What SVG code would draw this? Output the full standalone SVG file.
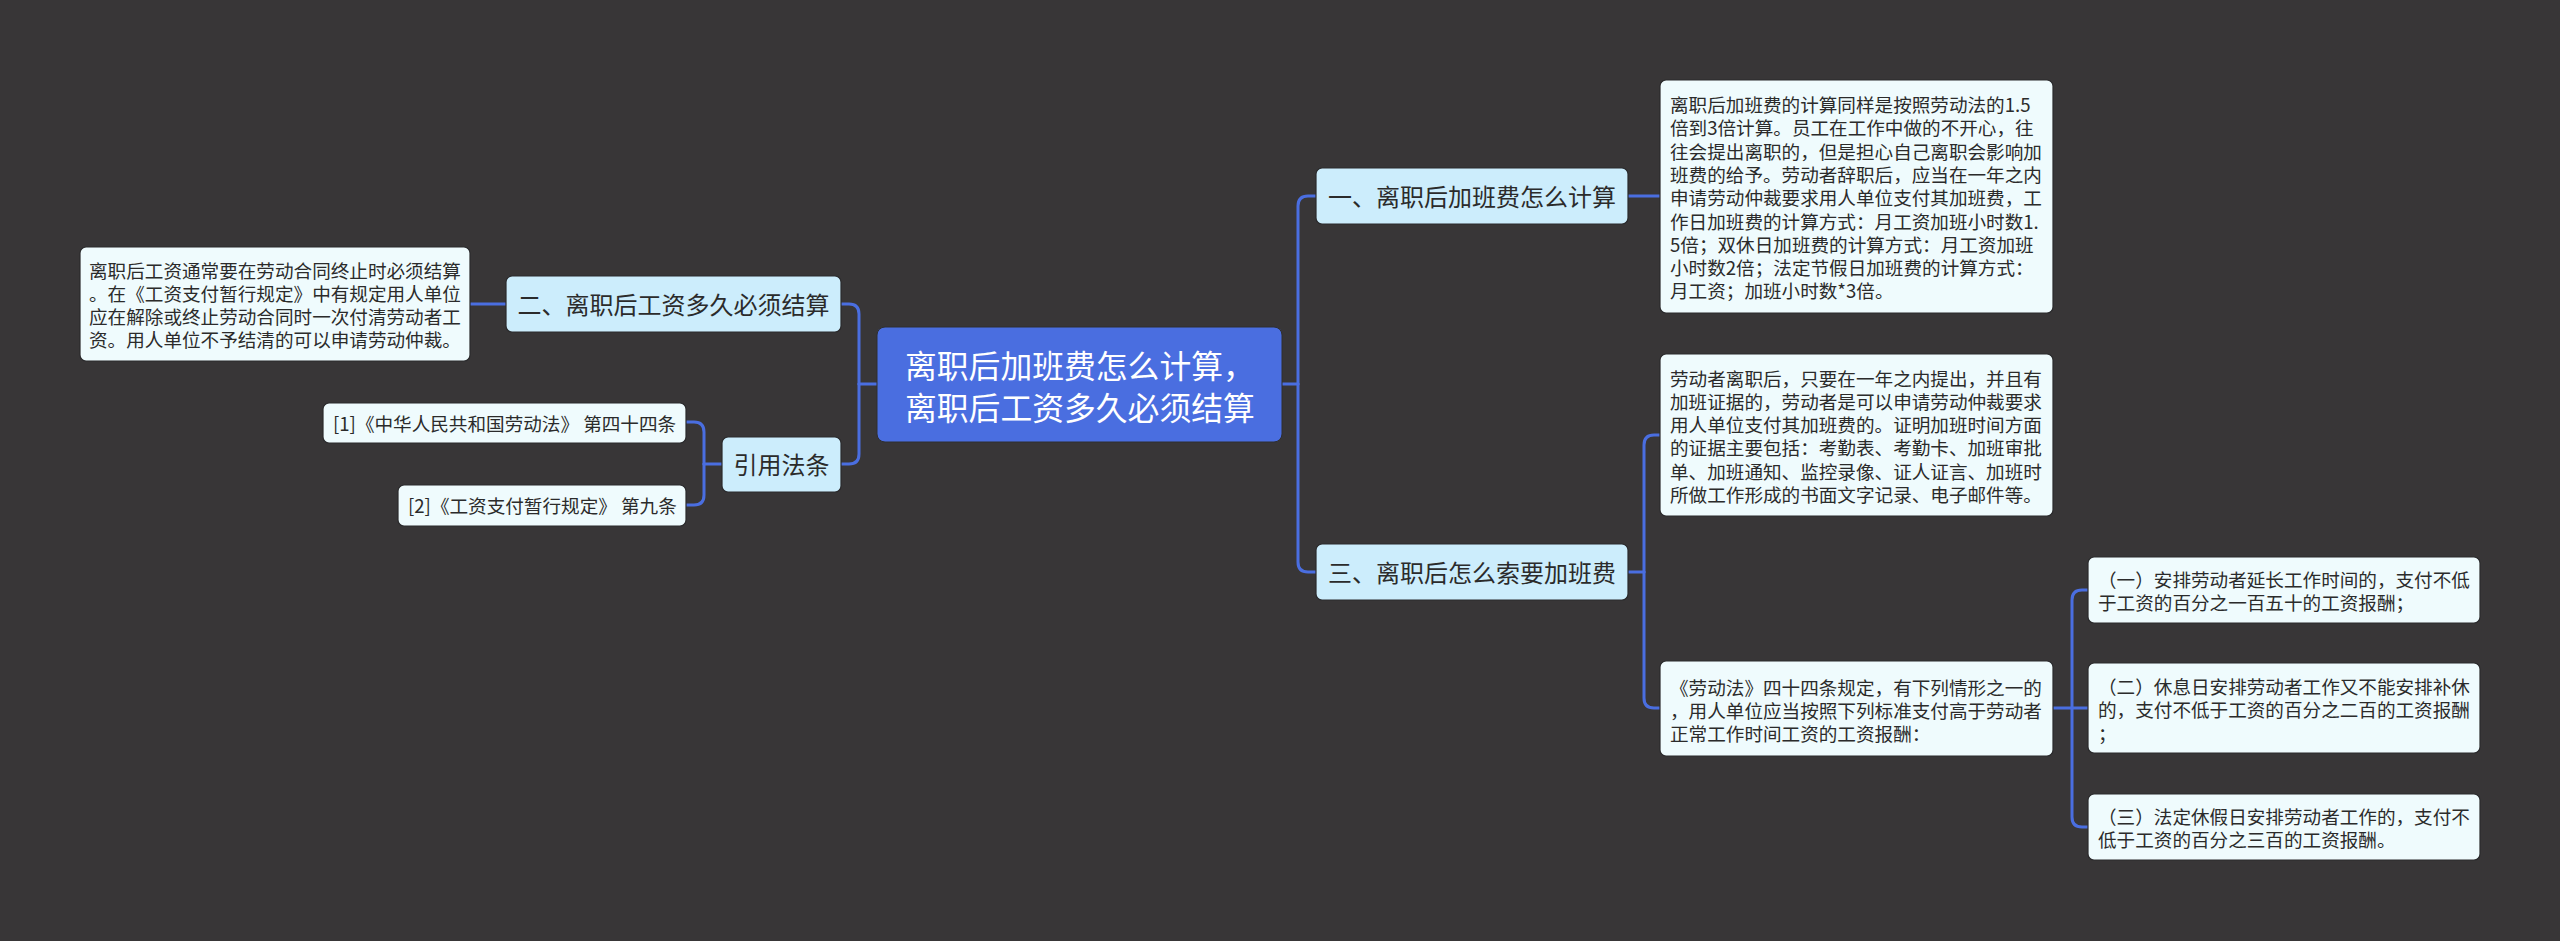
<svg xmlns="http://www.w3.org/2000/svg" width="2560" height="941" viewBox="0 0 2560 941">
<style>
.bg{fill:#383637}
.root rect{fill:#4a6ee0;stroke:#2e2e30;stroke-width:1}
.br rect{fill:#ccedfc;stroke:#2a2a2c;stroke-width:1.2}
.dt rect{fill:#effbfd;stroke:#2a2a2c;stroke-width:1.2}
text{font-family:"Noto Sans CJK SC","Noto Sans",sans-serif}
.tr{font-size:31.8px;fill:#ffffff}
.tb{font-size:24px;fill:#2b2b2b;text-anchor:middle}
.td{font-size:18.6px;fill:#2b2b2b}
.con path{fill:none;stroke:#4a6ee0;stroke-width:3;stroke-linecap:round}
</style>
<rect class="bg" x="0" y="0" width="2560" height="941"/>
<g class="con">
<path d="M1282,384 H1298"/>
<path d="M1298,384 V206 Q1298,196 1308,196 H1316"/>
<path d="M1298,384 V562 Q1298,572 1308,572 H1316"/>
<path d="M1628,196 H1660"/>
<path d="M1628,572 H1644"/>
<path d="M1644,572 V445 Q1644,435 1654,435 H1660"/>
<path d="M1644,572 V698 Q1644,708 1654,708 H1660"/>
<path d="M2053,708 H2088"/>
<path d="M2072,708 V600 Q2072,590 2082,590 H2088"/>
<path d="M2072,708 V817 Q2072,827 2082,827 H2088"/>
<path d="M877,384 H859"/>
<path d="M859,384 V314 Q859,304 849,304 H841"/>
<path d="M859,384 V454 Q859,464 849,464 H841"/>
<path d="M506,304 H470"/>
<path d="M722,464 H704"/>
<path d="M704,464 V432 Q704,422 694,422 H686"/>
<path d="M704,464 V495 Q704,505 694,505 H686"/>
</g>
<g id="root" class="root">
<rect x="877" y="327" width="405" height="115" rx="8"/>
<text class="tr" x="905" y="378">离职后加班费怎么计算，</text>
<text class="tr" x="905" y="420">离职后工资多久必须结算</text>
</g>
<g id="b1" class="br">
<rect x="1316" y="168" width="312" height="56" rx="6"/>
<text class="tb" x="1472" y="206">一、离职后加班费怎么计算</text>
</g>
<g id="d1" class="dt">
<rect x="1660" y="80" width="393" height="233" rx="6"/>
<text class="td" x="1670" y="112">离职后加班费的计算同样是按照劳动法的1.5</text>
<text class="td" x="1670" y="135.3">倍到3倍计算。员工在工作中做的不开心，往</text>
<text class="td" x="1670" y="158.6">往会提出离职的，但是担心自己离职会影响加</text>
<text class="td" x="1670" y="181.9">班费的给予。劳动者辞职后，应当在一年之内</text>
<text class="td" x="1670" y="205.2">申请劳动仲裁要求用人单位支付其加班费，工</text>
<text class="td" x="1670" y="228.5">作日加班费的计算方式：月工资加班小时数1.</text>
<text class="td" x="1670" y="251.8">5倍；双休日加班费的计算方式：月工资加班</text>
<text class="td" x="1670" y="275.1">小时数2倍；法定节假日加班费的计算方式：</text>
<text class="td" x="1670" y="298.4">月工资；加班小时数*3倍。</text>
</g>
<g id="b3" class="br">
<rect x="1316" y="544" width="312" height="56" rx="6"/>
<text class="tb" x="1472" y="582">三、离职后怎么索要加班费</text>
</g>
<g id="d3a" class="dt">
<rect x="1660" y="354" width="393" height="162" rx="6"/>
<text class="td" x="1670" y="385.5">劳动者离职后，只要在一年之内提出，并且有</text>
<text class="td" x="1670" y="408.8">加班证据的，劳动者是可以申请劳动仲裁要求</text>
<text class="td" x="1670" y="432.1">用人单位支付其加班费的。证明加班时间方面</text>
<text class="td" x="1670" y="455.4">的证据主要包括：考勤表、考勤卡、加班审批</text>
<text class="td" x="1670" y="478.7">单、加班通知、监控录像、证人证言、加班时</text>
<text class="td" x="1670" y="502">所做工作形成的书面文字记录、电子邮件等。</text>
</g>
<g id="d3b" class="dt">
<rect x="1660" y="661" width="393" height="95" rx="6"/>
<text class="td" x="1670" y="694.5">《劳动法》四十四条规定，有下列情形之一的</text>
<text class="td" x="1670" y="717.8">，用人单位应当按照下列标准支付高于劳动者</text>
<text class="td" x="1670" y="741.1">正常工作时间工资的工资报酬：</text>
</g>
<g id="i1" class="dt">
<rect x="2088" y="557" width="392" height="66" rx="6"/>
<text class="td" x="2098" y="587">（一）安排劳动者延长工作时间的，支付不低</text>
<text class="td" x="2098" y="610.3">于工资的百分之一百五十的工资报酬；</text>
</g>
<g id="i2" class="dt">
<rect x="2088" y="663" width="392" height="90" rx="6"/>
<text class="td" x="2098" y="694">（二）休息日安排劳动者工作又不能安排补休</text>
<text class="td" x="2098" y="717.3">的，支付不低于工资的百分之二百的工资报酬</text>
<text class="td" x="2098" y="740.6">；</text>
</g>
<g id="i3" class="dt">
<rect x="2088" y="794" width="392" height="66" rx="6"/>
<text class="td" x="2098" y="824">（三）法定休假日安排劳动者工作的，支付不</text>
<text class="td" x="2098" y="847.3">低于工资的百分之三百的工资报酬。</text>
</g>
<g id="b2" class="br">
<rect x="506" y="276" width="335" height="56" rx="6"/>
<text class="tb" x="673.5" y="314">二、离职后工资多久必须结算</text>
</g>
<g id="d2" class="dt">
<rect x="80" y="247" width="390" height="114" rx="6"/>
<text class="td" x="89" y="277.5">离职后工资通常要在劳动合同终止时必须结算</text>
<text class="td" x="89" y="300.8">。在《工资支付暂行规定》中有规定用人单位</text>
<text class="td" x="89" y="324.1">应在解除或终止劳动合同时一次付清劳动者工</text>
<text class="td" x="89" y="347.4">资。用人单位不予结清的可以申请劳动仲裁。</text>
</g>
<g id="b4" class="br">
<rect x="722" y="437" width="119" height="55" rx="6"/>
<text class="tb" x="781.5" y="474">引用法条</text>
</g>
<g id="r1" class="dt">
<rect x="323" y="403" width="363" height="40" rx="6"/>
<text class="td" x="333" y="430.5">[1]《中华人民共和国劳动法》 第四十四条</text>
</g>
<g id="r2" class="dt">
<rect x="398" y="485" width="288" height="41" rx="6"/>
<text class="td" x="408" y="512.5">[2]《工资支付暂行规定》 第九条</text>
</g>
</svg>
